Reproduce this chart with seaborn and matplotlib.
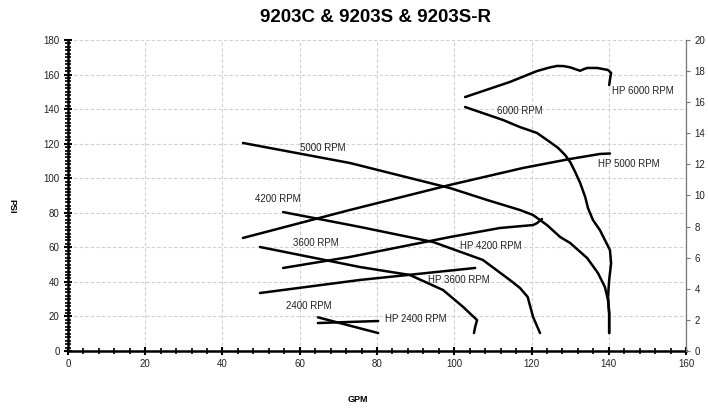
import matplotlib
matplotlib.use("Agg")
import matplotlib.pyplot as plt
import seaborn as sns
import numpy as np
from matplotlib.ticker import MultipleLocator

sns.set_theme(style="white")
plt.rcParams['font.family'] = ['Liberation Sans', 'DejaVu Sans']
plt.rcParams['text.color'] = 'black'
plt.rcParams['lines.solid_joinstyle'] = 'round'
plt.rcParams['lines.solid_capstyle'] = 'round'

# Pressure curves (GPM, PSI)
gpm_6000 = [102.8, 112.6, 117.0, 121.4, 124.8, 126.9, 128.7, 130.0, 131.3, 132.6, 133.9,
            134.6, 135.9, 137.7, 139.0, 140.3, 140.6, 140.1, 139.8, 140.1, 140.1]
psi_6000 = [141.2, 133.7, 129.6, 126.2, 120.9, 117.5, 113.4, 109.4, 103.6, 97.2, 89.1,
            82.8, 75.8, 70.0, 64.2, 58.4, 50.9, 41.1, 31.3, 22.0, 10.4]

gpm_5000 = [45.3, 73.0, 98.9, 108.5, 117.0, 120.4, 124.0, 127.4, 130.0, 134.4, 137.2,
            139.0, 139.8, 140.1, 140.1]
psi_5000 = [120.4, 108.8, 94.3, 87.4, 81.6, 78.7, 72.9, 66.0, 62.5, 53.8, 45.1,
            37.0, 29.5, 22.0, 10.4]

gpm_4200 = [55.7, 75.6, 94.5, 107.4, 114.4, 117.0, 119.0, 120.4, 122.2]
psi_4200 = [80.4, 71.8, 63.1, 52.7, 41.1, 36.5, 31.3, 19.7, 10.4]

gpm_3600 = [49.7, 75.6, 88.5, 97.1, 102.3, 105.9, 105.4, 105.1]
psi_3600 = [60.2, 48.6, 44.0, 35.3, 25.5, 17.9, 13.9, 10.4]

gpm_2400 = [64.7, 80.3]
psi_2400 = [19.5, 10.4]

# Horsepower curves (GPM, HP)
hp_gpm_6000 = [102.8, 114.4, 121.4, 124.5, 126.6, 128.3, 130.0, 131.6, 132.6, 133.5, 134.4,
               137.0, 139.8, 140.6, 140.3, 140.1]
hp_6000 = [16.33, 17.30, 18.00, 18.22, 18.33, 18.32, 18.24, 18.10, 18.02, 18.12, 18.20,
           18.20, 18.07, 17.88, 17.45, 17.10]

hp_gpm_5000 = [45.3, 73.0, 98.9, 117.8, 130.0, 137.7, 140.3]
hp_5000 = [7.27, 9.07, 10.68, 11.77, 12.35, 12.67, 12.70]

hp_gpm_4200 = [55.7, 73.0, 98.9, 111.8, 120.4, 121.4, 122.7]
hp_4200 = [5.34, 6.05, 7.33, 7.91, 8.10, 8.22, 8.49]

hp_gpm_3600 = [49.7, 75.6, 105.4]
hp_3600 = [3.73, 4.57, 5.34]

hp_gpm_2400 = [64.7, 80.3]
hp_2400 = [1.80, 1.93]

labels = ["5000 RPM", "4200 RPM", "3600 RPM", "2400 RPM", "6000 RPM",
          "HP 6000 RPM", "HP 5000 RPM", "HP 4200 RPM", "HP 3600 RPM", "HP 2400 RPM"]
label_x = [60.1, 48.4, 58.3, 56.4, 111.0, 140.8, 137.2, 101.5, 93.2, 82.1]
label_y = [117.5, 88.0, 62.5, 26.0, 139.0, 150.5, 108.2, 60.8, 41.0, 18.5]

fig = plt.figure(figsize=(7.08, 4.12), dpi=100)
ax = fig.add_axes([0.096, 0.148, 0.873, 0.755])
ax2 = ax.twinx()

lw = 1.8
for xs, ys in [(gpm_6000, psi_6000), (gpm_5000, psi_5000), (gpm_4200, psi_4200),
               (gpm_3600, psi_3600), (gpm_2400, psi_2400)]:
    sns.lineplot(x=xs, y=ys, ax=ax, color="black", linewidth=lw, sort=False, estimator=None)
for xs, ys in [(hp_gpm_6000, hp_6000), (hp_gpm_5000, hp_5000), (hp_gpm_4200, hp_4200),
               (hp_gpm_3600, hp_3600), (hp_gpm_2400, hp_2400)]:
    sns.lineplot(x=xs, y=ys, ax=ax2, color="black", linewidth=lw, sort=False, estimator=None)

for t, x, y in zip(labels, label_x, label_y):
    ax.text(x, y, t, fontsize=7, color="#222222", ha="left", va="center")

ax.set_xlim(0, 160)
ax.set_ylim(0, 180)
ax2.set_ylim(0, 20)

ax.xaxis.set_major_locator(MultipleLocator(20))
ax.xaxis.set_minor_locator(MultipleLocator(4))
ax.yaxis.set_major_locator(MultipleLocator(20))
ax.yaxis.set_minor_locator(MultipleLocator(2))
ax2.yaxis.set_major_locator(MultipleLocator(2))

ax.grid(True, which="major", color="#d0d0d0", linestyle=(0, (3, 2)), linewidth=0.8)
ax2.grid(False)
ax.set_axisbelow(True)

ax.spines["top"].set_visible(False)
ax2.spines["top"].set_visible(False)
ax.spines["right"].set_visible(False)
ax2.spines["left"].set_visible(False)
ax2.spines["bottom"].set_visible(False)
ax.spines["left"].set_color("black")
ax.spines["left"].set_linewidth(1.8)
ax.spines["bottom"].set_color("black")
ax.spines["bottom"].set_linewidth(1.8)
ax2.spines["right"].set_color("#777777")
ax2.spines["right"].set_linewidth(0.9)

ax.tick_params(axis="both", which="major", direction="inout", length=6, width=1.5,
               color="black", labelsize=7, labelcolor="#222222", left=True, bottom=True, pad=3)
ax.tick_params(axis="both", which="minor", direction="inout", length=4, width=1.2,
               color="black", left=True, bottom=True)
ax2.tick_params(axis="y", which="major", direction="out", length=3, width=0.8,
                color="#777777", labelsize=7, labelcolor="#222222", right=True, pad=3)

ax.set_xlabel("")
ax.set_ylabel("")
ax2.set_ylabel("")

fig.text(0.53, 0.958, "9203C & 9203S & 9203S-R", ha="center", va="center",
         fontsize=13.5, fontweight="bold", color="black")
fig.text(0.506, 0.03, "GPM", ha="center", va="center", fontsize=6.5, fontweight="bold")
fig.text(0.017, 0.50, "PSI", ha="center", va="center", fontsize=6.5, fontweight="bold",
         rotation=-90)

fig.savefig("out.png", dpi=100)
